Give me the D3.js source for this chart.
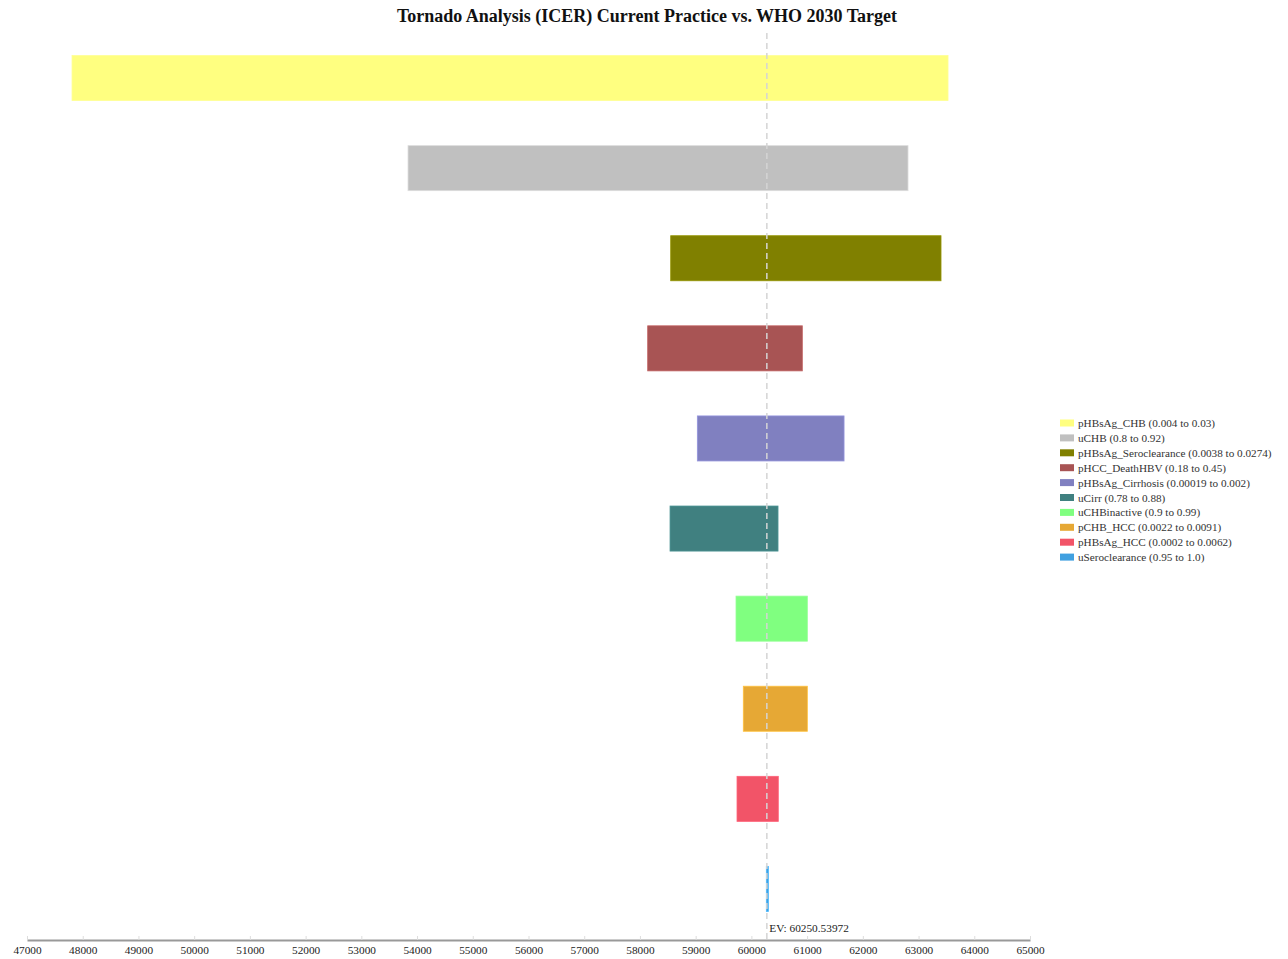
<!DOCTYPE html>
<html>
<head>
<meta charset="utf-8">
<script src="https://cdn.jsdelivr.net/npm/d3@7"></script>
<style>
  body { margin: 0; background: #fff; }
  svg text { font-family: "Liberation Serif", "DejaVu Serif", serif; }
</style>
</head>
<body>
<script>
// tornado chart - ICER current practice vs WHO 2030

const params = ["pHBsAg_CHB", "uCHB", "pHBsAg_Seroclearance", "pHCC_DeathHBV", "pHBsAg_Cirrhosis",
  "uCirr", "uCHBinactive", "pCHB_HCC", "pHBsAg_HCC", "uSeroclearance"];
const ranges = ["0.004 to 0.03", "0.8 to 0.92", "0.0038 to 0.0274", "0.18 to 0.45", "0.00019 to 0.002",
  "0.78 to 0.88", "0.9 to 0.99", "0.0022 to 0.0091", "0.0002 to 0.0062", "0.95 to 1.0"];
const lowVals = [47808, 53838, 58552, 58139, 59030, 58540, 59724, 59855, 59742, 60268];
const highVals = [63529, 62811, 63403, 60914, 61663, 60478, 61004, 61004, 60483, 60305];
const colors = ["#ffff80", "#c0c0c0", "#808000", "#a85454", "#8080c0",
  "#408080", "#80ff80", "#e6a835", "#f25468", "#40a0e0"];
const ev = 60250.53972;
const xTickVals = d3.range(47000, 65001, 1000);

const data = params.map((p, i) => ({
  name: p,
  label: p + " (" + ranges[i] + ")",
  lo: lowVals[i],
  hi: highVals[i],
  color: colors[i]
}));

const svgWidth = 1288;
const svgHeight = 959;

const xScale = d3.scaleLinear()
  .domain([47000, 65000])
  .range([27, 1030]);

const yScale = d3.scaleBand()
  .domain(params)
  .range([33, 934])
  .paddingInner(0.5)
  .paddingOuter(0.25);

const svg = d3.select('body').append('svg')
  .attr('width', svgWidth)
  .attr('height', svgHeight);

svg.append('text')
  .attr('x', 647)
  .attr('y', 22)
  .attr('text-anchor', 'middle')
  .attr('font-size', '18px')
  .attr('font-weight', 'bold')
  .attr('fill', '#111')
  .text('Tornado Analysis (ICER) Current Practice vs. WHO 2030 Target');

// bars
svg.selectAll('rect.bar')
  .data(data)
  .enter()
  .append('rect')
  .attr('class', 'bar')
  .attr('x', d => xScale(d.lo))
  .attr('y', d => yScale(d.name))
  .attr('width', d => Math.max(1.5, xScale(d.hi) - xScale(d.lo)))
  .attr('height', yScale.bandwidth())
  .attr('fill', d => d.color)
  .attr('stroke', d => d3.color(d.color).brighter(0.4))
  .attr('stroke-width', 0.8);

// EV line
svg.append('line')
  .attr('x1', xScale(ev) + 1.5)
  .attr('x2', xScale(ev) + 1.5)
  .attr('y1', 33)
  .attr('y2', 940)
  .attr('stroke', '#d4d4d4')
  .attr('stroke-width', 1.5)
  .attr('stroke-dasharray', '6,4');

svg.append('text')
  .attr('x', xScale(ev) + 4)
  .attr('y', 932)
  .attr('font-size', '11.3px')
  .attr('fill', '#222')
  .text('EV: ' + ev);

// x axis
const xAxis = d3.axisBottom(xScale)
  .tickValues(xTickVals)
  .tickFormat(d3.format('d'))
  .tickSizeInner(-4)
  .tickSizeOuter(0)
  .tickPadding(6);

const gx = svg.append('g')
  .attr('class', 'axis')
  .attr('transform', 'translate(0,940)')
  .call(xAxis);
gx.select('.domain').attr('stroke', '#999').attr('stroke-width', 2);
gx.selectAll('.tick line').attr('stroke', '#ddd');
gx.selectAll('.tick text')
  .attr('font-family', '"Liberation Serif", serif')
  .attr('font-size', '11.3px')
  .attr('fill', '#222');

// legend
const legend = svg.append('g')
  .attr('transform', 'translate(1060,423)');

const items = legend.selectAll('g')
  .data(data)
  .enter()
  .append('g')
  .attr('transform', (d, i) => 'translate(0,' + (i * 14.9) + ')');

items.append('rect')
  .attr('x', 0)
  .attr('y', -3.5)
  .attr('width', 14)
  .attr('height', 7)
  .attr('fill', d => d.color);

items.append('text')
  .attr('x', 18)
  .attr('y', 4)
  .attr('font-size', '11.2px')
  .attr('fill', '#333')
  .text(d => d.label);
</script>
</body>
</html>
